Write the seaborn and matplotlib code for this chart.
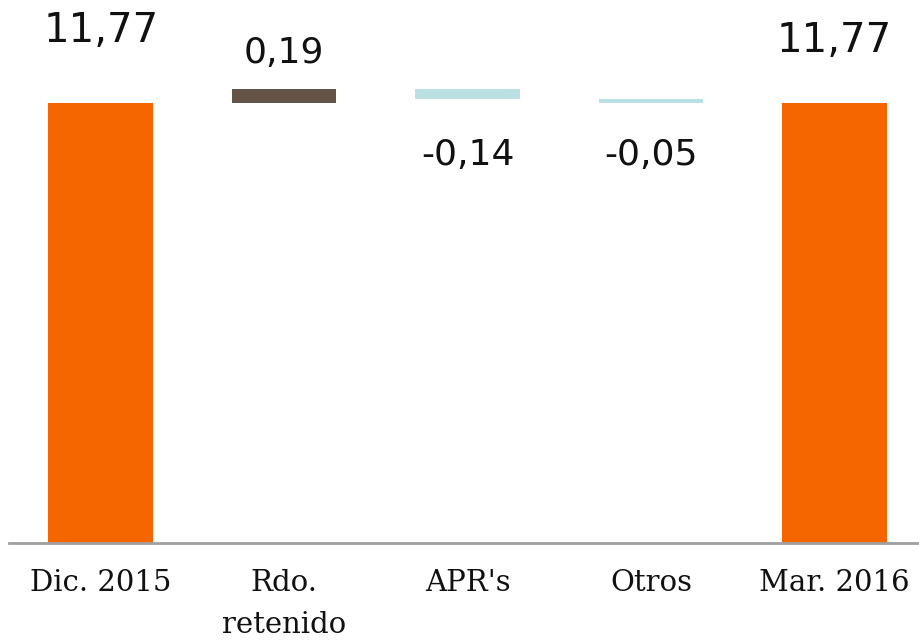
import numpy as np
import pandas as pd
import seaborn as sns
import matplotlib
matplotlib.use("Agg")
import matplotlib.pyplot as plt

# data
categories = ["Dic. 2015", "Rdo.\nretenido", "APR's", "Otros", "Mar. 2016"]
changes = [11.77, 0.19, -0.14, -0.05, 11.77]
labels = ["11,77", "0,19", "-0,14", "-0,05", "11,77"]
is_total = [True, False, False, False, True]

orange = "#F56600"
brown = "#635447"
lblue = "#BBE0E3"

# waterfall geometry
bottoms, tops = [], []
level = 0.0
for v, tot in zip(changes, is_total):
    if tot:
        bottoms.append(0.0)
        tops.append(v)
        level = v
    else:
        new = level + v
        bottoms.append(min(level, new))
        tops.append(max(level, new))
        level = new
heights = [t - b for t, b in zip(tops, bottoms)]
colors = [orange if t else (brown if v > 0 else lblue) for v, t in zip(changes, is_total)]

df = pd.DataFrame({"cat": categories, "height": heights})

sns.set_theme(style="white")
plt.rcParams["font.family"] = ["DejaVu Sans"]

fig = plt.figure(figsize=(9.19, 6.4), dpi=100)
ax = fig.add_axes([9 / 919, 97 / 640, 910 / 919, 543 / 640])

sns.barplot(data=df, x="cat", y="height", bottom=bottoms, width=0.57,
            color=orange, ax=ax, linewidth=0)
for p, c in zip(ax.patches, colors):
    p.set_facecolor(c)

ax.set_ylim(5.66, 13.2)
ax.set_xlim(-0.5, 4.46)
ax.set_xlabel("")
ax.set_ylabel("")
ax.set_yticks([])
sns.despine(ax=ax, left=True, right=True, top=True)
ax.spines["bottom"].set_color("#A0A0A0")
ax.spines["bottom"].set_linewidth(2)
ax.tick_params(axis="x", length=0, pad=19)
for t in ax.get_xticklabels():
    t.set_fontfamily("DejaVu Serif")
    t.set_fontsize(21)
    t.set_color("#111111")
    t.set_linespacing(1.6)

# value labels
offsets = [44, 18.7, -47, -45, 36.7]
sizes = [29, 26, 26, 26, 29]
for i, (lab, v) in enumerate(zip(labels, changes)):
    y = tops[i] if offsets[i] > 0 else bottoms[i]
    ax.annotate(lab, xy=(i, y), xytext=(0, offsets[i]), textcoords="offset points",
                ha="center", va="baseline", fontsize=sizes[i], color="#111111",
                annotation_clip=False)

fig.savefig("out.png", dpi=100)
